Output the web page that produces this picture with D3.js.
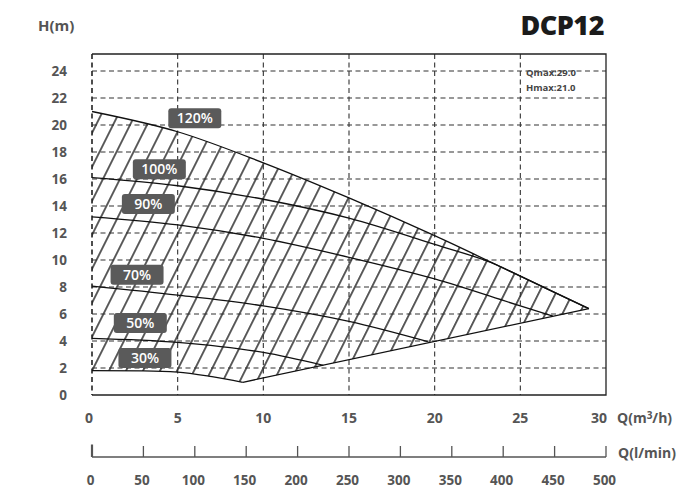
<!DOCTYPE html>
<html><head><meta charset="utf-8">
<script src="https://cdn.jsdelivr.net/npm/d3@7"></script>
<style>
html,body{margin:0;padding:0;background:#fff;}
svg{display:block;font-family:"Open Sans","DejaVu Sans",sans-serif;}
</style></head>
<body><svg id="chart" width="678" height="489"></svg>
<script>
// ---- data ----
const title = "DCP12";
const flowTicks = [0, 5, 10, 15, 20, 25, 30];          // Q (m3/h)
const flowLminTicks = [0, 50, 100, 150, 200, 250, 300, 350, 400, 450, 500]; // Q (l/min)
const headTicks = [0, 2, 4, 6, 8, 10, 12, 14, 16, 18, 20, 22, 24];
const infoLines = ["Qmax:29.0", "Hmax:21.0"];

const curve120 = [[0, 21.0], [5, 19.5], [10, 17.2], [15, 14.6], [20, 11.8], [25, 8.8], [29, 6.4]];
const curve100 = [[0, 16.1], [5, 15.5], [10, 14.5], [15, 13.1], [20, 11.15], [23.6, 9.65], [25, 8.8], [29, 6.4]];
const curve90  = [[0, 13.2], [5, 12.6], [10, 11.6], [15, 10.2], [20, 8.6], [25, 6.6], [26.9, 5.85]];
const curve70  = [[0, 8.07], [5, 7.4], [10, 6.6], [15, 5.45], [19.6, 3.95]];
const curve50  = [[0, 4.2], [5, 3.9], [10, 3.15], [13.5, 2.2]];
const curve30  = [[0, 1.8], [3, 1.78], [5, 1.7], [7, 1.36], [8.8, 0.94]];
const endLine  = [[8.8, 0.94], [29, 6.4]];

const speedNames  = ["120%", "100%", "90%", "70%", "50%", "30%"];
const speedCurves = [curve120, curve100, curve90, curve70, curve50, curve30];
const labelAnchorQ = [6.0, 3.93, 3.29, 2.63, 2.82, 3.09];
const labelAnchorH = [20.5, 16.72, 14.15, 8.91, 5.33, 2.74];

// ---- layout ----
const svg = d3.select("#chart");
const x = d3.scaleLinear().domain([0, 30]).range([92, 606]);
const xl = d3.scaleLinear().domain([0, 500]).range([92, 606]);
const y = d3.scaleLinear().domain([0, 24]).range([395, 71]);
const yTop = y(25.26);
const grey = "#555";

const defs = svg.append("defs");
const pat = defs.append("pattern").attr("id", "hatch")
  .attr("patternUnits", "userSpaceOnUse").attr("width", 15.2).attr("height", 20)
  .attr("patternTransform", "translate(95,127) rotate(26.57) translate(-7.6,0)");
pat.append("line").attr("x1", 7.6).attr("x2", 7.6).attr("y1", -2).attr("y2", 22)
  .attr("stroke", "#000").attr("stroke-width", 1.25);

const lineGen = d3.line().x(d => x(d[0])).y(d => y(d[1])).curve(d3.curveMonotoneX);
const straight = d3.line().x(d => x(d[0])).y(d => y(d[1]));

// clip 1: below 120% curve
const areaBelow = d3.area().x(d => x(d[0])).y0(y(0)).y1(d => y(d[1])).curve(d3.curveMonotoneX);
defs.append("clipPath").attr("id", "clipTop").append("path").attr("d", areaBelow(curve120));
// clip 2: above lower boundary (30% curve + end line)
const cpLow = defs.append("clipPath").attr("id", "clipLow");
const areaAbove = d3.area().x(d => x(d[0])).y0(yTop - 5).y1(d => y(d[1])).curve(d3.curveMonotoneX);
const areaAboveLin = d3.area().x(d => x(d[0])).y0(yTop - 5).y1(d => y(d[1]));
cpLow.append("path").attr("d", areaAbove(curve30));
cpLow.append("path").attr("d", areaAboveLin(endLine));

// hatch
svg.append("g").attr("clip-path", "url(#clipTop)")
  .append("g").attr("clip-path", "url(#clipLow)")
  .append("rect").attr("x", x(0)).attr("y", yTop).attr("width", x(30) - x(0)).attr("height", y(0) - yTop)
  .attr("fill", "url(#hatch)");

// grid
const grid = svg.append("g").attr("stroke", "#333").attr("stroke-width", 1.1).attr("stroke-dasharray", "5,3.5").attr("fill", "none");
grid.selectAll("line.h").data(headTicks.filter(d => d > 0)).join("line")
  .attr("x1", x(0)).attr("x2", x(30)).attr("y1", d => y(d)).attr("y2", d => y(d));
grid.selectAll("line.v").data(flowTicks.filter(d => d > 0 && d < 30)).join("line")
  .attr("y1", yTop).attr("y2", y(0)).attr("x1", d => x(d)).attr("x2", d => x(d));
// left dashed edge
svg.append("line").attr("x1", x(0)).attr("x2", x(0)).attr("y1", yTop).attr("y2", y(0))
  .attr("stroke", "#222").attr("stroke-width", 1.6).attr("stroke-dasharray", "5,3.5");
// solid borders
svg.append("path").attr("d", `M${x(0)},${yTop}H${x(30)}V${y(0)}H${x(0)}`)
  .attr("fill", "none").attr("stroke", "#222").attr("stroke-width", 1.3);

// curves
svg.append("g").selectAll("path").data(speedCurves).join("path")
  .attr("d", lineGen).attr("fill", "none").attr("stroke", "#111").attr("stroke-width", 1.3);
svg.append("path").attr("d", straight(endLine)).attr("fill", "none").attr("stroke", "#111").attr("stroke-width", 1.3);

// speed labels
const lab = svg.append("g").selectAll("g").data(speedNames).join("g")
  .attr("transform", (d, i) => `translate(${x(labelAnchorQ[i])},${y(labelAnchorH[i])})`);
lab.append("rect").attr("x", -26.5).attr("y", -10).attr("width", 53).attr("height", 20).attr("rx", 3)
  .attr("fill", "#5a5a5a");
lab.append("text").text(d => d).attr("text-anchor", "middle").attr("dy", "0.36em")
  .attr("fill", "#fff").attr("font-size", 14).attr("font-weight", 600);

// y tick labels
svg.append("g").selectAll("text").data(headTicks).join("text")
  .attr("x", 67).attr("y", d => y(d)).attr("dy", "0.36em").attr("text-anchor", "end")
  .attr("fill", grey).attr("font-size", 13.5).attr("font-weight", 700).text(d => d);
svg.append("text").attr("x", 38).attr("y", 31).attr("fill", grey).attr("font-size", 15).attr("font-weight", 700).text("H(m)");

// x tick labels (m3/h)
svg.append("g").selectAll("text").data(flowTicks).join("text")
  .attr("x", d => d === 30 ? x(d) + 1 : (d === 0 ? x(d) + 1 : x(d)))
  .attr("y", 418).attr("dy", "0.36em")
  .attr("text-anchor", d => d === 30 || d === 0 ? "end" : "middle")
  .attr("fill", grey).attr("font-size", 14).attr("font-weight", 700).text(d => d);
svg.append("text").attr("x", 617).attr("y", 418).attr("dy", "0.36em").attr("fill", grey)
  .attr("font-size", 14).attr("font-weight", 700).html("Q(m<tspan font-size='10' dy='-4'>3</tspan><tspan dy='4'>/h)</tspan>");

// l/min axis
const ax2 = svg.append("g");
ax2.append("line").attr("x1", xl(0)).attr("x2", xl(500)).attr("y1", 457).attr("y2", 457)
  .attr("stroke", grey).attr("stroke-width", 1.6);
ax2.selectAll("line.t").data(flowLminTicks).join("line")
  .attr("x1", d => xl(d)).attr("x2", d => xl(d)).attr("y1", 457).attr("y2", d => d === 0 ? 444.5 : 446)
  .attr("stroke", grey).attr("stroke-width", d => d === 0 ? 2.2 : 1.3);
ax2.selectAll("text").data(flowLminTicks).join("text")
  .attr("x", d => xl(d) - 1.5).attr("y", 480).attr("dy", "0.36em").attr("text-anchor", "middle")
  .attr("fill", grey).attr("font-size", 13.5).attr("font-weight", 700).text(d => d);
svg.append("text").attr("x", 618).attr("y", 453).attr("dy", "0.36em").attr("fill", grey)
  .attr("font-size", 14).attr("font-weight", 700).text("Q(l/min)");

// title + info
svg.append("text").attr("x", 604).attr("y", 35).attr("text-anchor", "end").attr("fill", "#1b1b1b")
  .attr("font-size", 27).attr("font-weight", 800).attr("letter-spacing", -0.5).text(title);
svg.append("g").selectAll("text").data(infoLines).join("text")
  .attr("x", 526).attr("y", (d, i) => 73 + i * 15).attr("dy", "0.36em")
  .attr("fill", "#444").attr("font-size", 9.5).attr("font-weight", 700).text(d => d);
</script></body></html>
